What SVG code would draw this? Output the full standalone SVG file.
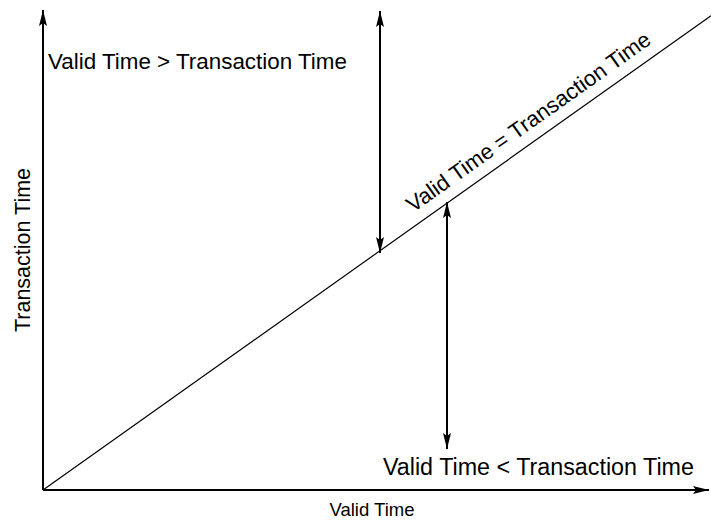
<svg xmlns="http://www.w3.org/2000/svg" width="711" height="525" viewBox="0 0 711 525">
  <style>
    .axis { stroke: #000; stroke-width: 2; fill: none; }
    .diag { stroke: #000; stroke-width: 1.2; fill: none; }
    .lbl { font-family: "Liberation Sans", Arial, sans-serif; fill: #000; }
  </style>
  <defs>
    <marker id="head" viewBox="0 0 16 8" refX="16" refY="4" markerWidth="16" markerHeight="8" markerUnits="userSpaceOnUse" orient="auto-start-reverse">
      <path d="M0,0 L16,4 L0,8 L3,4 z" fill="#000"/>
    </marker>
  </defs>
  <rect width="711" height="525" fill="#fff"/>

  <g id="connectors">
    <!-- axes -->
    <line id="y-axis" class="axis" x1="43" y1="490" x2="43" y2="10" marker-end="url(#head)"/>
    <line id="x-axis" class="axis" x1="43" y1="490" x2="709" y2="490" marker-end="url(#head)"/>
    <!-- valid time = transaction time -->
    <line id="diagonal" class="diag" x1="43" y1="490" x2="711" y2="15.7"/>
    <!-- double-headed arrows -->
    <line id="above-arrow" class="axis" x1="380" y1="11" x2="380" y2="253" marker-start="url(#head)" marker-end="url(#head)"/>
    <line id="below-arrow" class="axis" x1="447" y1="202" x2="447" y2="449" marker-start="url(#head)" marker-end="url(#head)"/>
  </g>

  <g id="label-above">
    <text class="lbl" x="48" y="69" font-size="22.4">Valid Time &gt; Transaction Time</text>
  </g>
  <g id="label-below">
    <text class="lbl" x="383" y="475" font-size="23.3">Valid Time &lt; Transaction Time</text>
  </g>
  <g id="label-diagonal">
    <text class="lbl" font-size="22" transform="translate(413,213) rotate(-35.4)">Valid Time = Transaction Time</text>
  </g>
  <g id="label-x">
    <text class="lbl" x="372" y="516" font-size="18.5" text-anchor="middle">Valid Time</text>
  </g>
  <g id="label-y">
    <text class="lbl" font-size="21.5" text-anchor="middle" transform="translate(30,250) rotate(-90)">Transaction Time</text>
  </g>
</svg>
